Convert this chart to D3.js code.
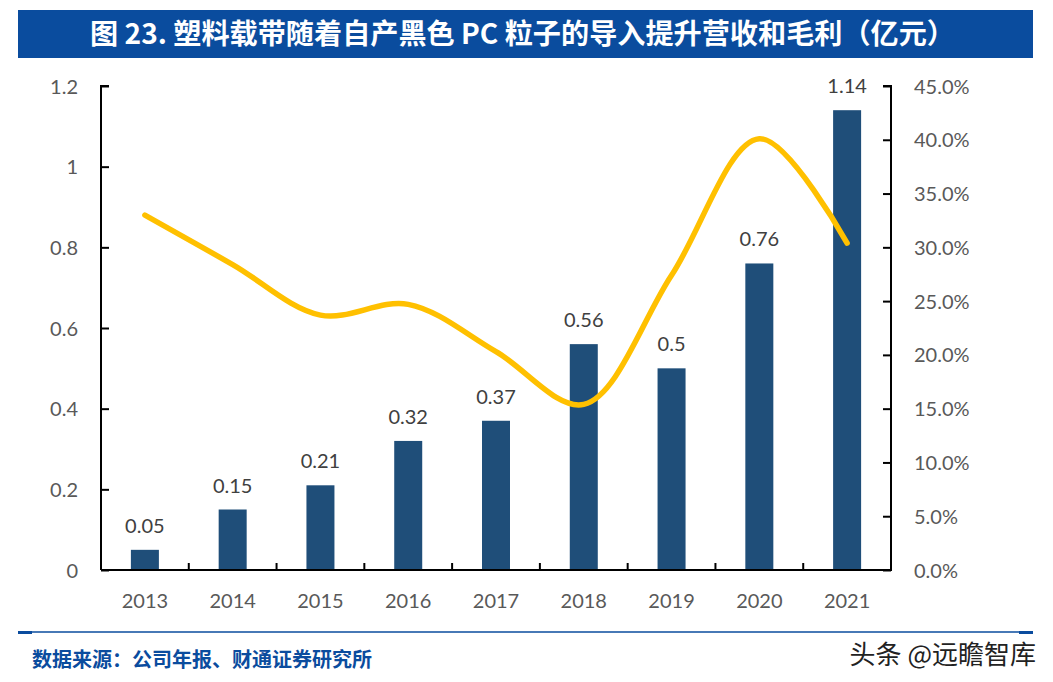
<!DOCTYPE html>
<html><head><meta charset="utf-8">
<script src="https://cdn.jsdelivr.net/npm/d3@7"></script>
<style>
html,body{margin:0;padding:0;background:#fff;}
svg{display:block;}
</style></head>
<body>
<svg id="c" width="1053" height="682"></svg>
<script>
const titleText = "图 23. 塑料载带随着自产黑色 PC 粒子的导入提升营收和毛利（亿元）";
const sourceText = "数据来源：公司年报、财通证券研究所";
const watermark = "头条 @远瞻智库";
const years = ["2013","2014","2015","2016","2017","2018","2019","2020","2021"];
const revenue = [0.05,0.15,0.21,0.32,0.37,0.56,0.5,0.76,1.14];
const margin = [33.0,28.4,23.7,24.7,20.3,15.4,27.4,40.1,30.4];
const leftTicks = [0,0.2,0.4,0.6,0.8,1,1.2];
const rightTicks = [0,5,10,15,20,25,30,35,40,45];

const svg = d3.select("#c");
const numFont = "Lato, 'Noto Sans', sans-serif";
const cjkFont = "'Noto Sans CJK SC', sans-serif";

// title bar
svg.append("rect").attr("x",18).attr("y",10).attr("width",1015).attr("height",48).attr("fill","#0A4C9E");
svg.append("text").attr("x",90).attr("y",44)
  .attr("fill","#fff").attr("font-family",cjkFont).attr("font-weight","bold").attr("font-size",28)
  .attr("textLength",865).attr("lengthAdjust","spacingAndGlyphs")
  .text(titleText);

const L=101, R=891, T=86, B=570;
const x = d3.scaleBand().domain(years).range([L,R]).paddingInner(0).paddingOuter(0);
const yL = d3.scaleLinear().domain([0,1.2]).range([B,T]);
const yR = d3.scaleLinear().domain([0,45]).range([B,T]);
const barW = 28;

// bars
svg.append("g").selectAll("rect").data(years).join("rect")
  .attr("x",d=>x(d)+x.bandwidth()/2-barW/2)
  .attr("y",(d,i)=>yL(revenue[i]))
  .attr("width",barW)
  .attr("height",(d,i)=>B-yL(revenue[i]))
  .attr("fill","#1F4E79");

// bar labels
svg.append("g").selectAll("text").data(years).join("text")
  .attr("x",d=>x(d)+x.bandwidth()/2)
  .attr("y",(d,i)=>yL(revenue[i])-17)
  .attr("text-anchor","middle").attr("font-family",numFont).attr("font-size",20).attr("fill","#404040")
  .text((d,i)=>String(revenue[i]));

// axes
const axL = d3.axisLeft(yL).tickValues(leftTicks).tickSize(-8).tickPadding(23).tickFormat(d=>String(d));
const gL = svg.append("g").attr("transform",`translate(${L},0)`).call(axL);
const axR = d3.axisRight(yR).tickValues(rightTicks).tickSize(-8).tickPadding(23).tickFormat(d=>d.toFixed(1)+"%");
const gR = svg.append("g").attr("transform",`translate(${R},0)`).call(axR);
const axB = d3.axisBottom(x).tickSize(0).tickPadding(24);
const gB = svg.append("g").attr("transform",`translate(0,${B})`).call(axB);
// category boundary ticks pointing up
svg.append("g").selectAll("line").data(years.slice(1)).join("line")
  .attr("x1",d=>x(d)).attr("x2",d=>x(d)).attr("y1",B).attr("y2",B-7)
  .attr("stroke","#000").attr("stroke-width",2);

[gL,gR,gB].forEach(g=>{
  g.select(".domain").attr("stroke","#000").attr("stroke-width",2);
  g.selectAll(".tick line").attr("stroke","#000").attr("stroke-width",2);
  g.selectAll(".tick text").attr("font-family",numFont).attr("font-size",20).attr("fill","#595959");
});
gL.select(".domain").attr("d",`M8,${T}H0V${B}H0`);
gR.select(".domain").attr("d",`M-8,${T}H0V${B}H-8`);
gB.select(".domain").attr("d",`M${L},0H${R}`);
gB.selectAll(".tick text").attr("dy","0.71em");
gL.selectAll(".tick text").attr("dy","0.35em");
gR.selectAll(".tick text").attr("dy","0.35em");

// line
const line = d3.line().x((d,i)=>x(years[i])+x.bandwidth()/2).y(d=>yR(d)).curve(d3.curveCatmullRom.alpha(0.5));
svg.append("path").datum(margin).attr("d",line).attr("fill","none")
  .attr("stroke","#FFC000").attr("stroke-width",5.5).attr("stroke-linecap","round");

// footer
svg.append("line").attr("x1",18).attr("x2",1033).attr("y1",632).attr("y2",632).attr("stroke","#0A4C9E").attr("stroke-width",1.5);
svg.append("rect").attr("x",18).attr("y",631).attr("width",14).attr("height",3).attr("fill","#0A4C9E");
svg.append("rect").attr("x",1019).attr("y",631).attr("width",14).attr("height",3).attr("fill","#0A4C9E");
svg.append("text").attr("x",32).attr("y",667).attr("fill","#0A4C9E").attr("font-family",cjkFont)
  .attr("font-weight","bold").attr("font-size",20).text(sourceText);
svg.append("text").attr("x",1036).attr("y",664).attr("text-anchor","end").attr("fill","#222")
  .attr("font-family",cjkFont).attr("font-size",26).attr("stroke","#fff").attr("stroke-width",0.6)
  .attr("paint-order","stroke").text(watermark);
</script>
</body></html>
